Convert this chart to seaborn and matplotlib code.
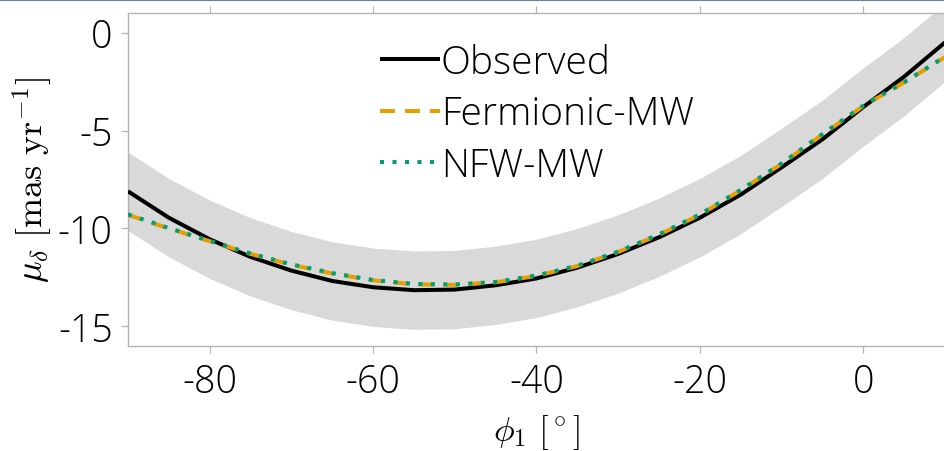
import numpy as np
import pandas as pd
import matplotlib
matplotlib.use("Agg")
import matplotlib.pyplot as plt
import matplotlib.lines as mlines
import seaborn as sns

# Stream track in proper motion along phi_1
phi1 = [-90, -85, -80, -75, -70, -65, -60, -55, -50, -45, -40,
        -35, -30, -25, -20, -15, -10, -5, 0, 5, 10]
mu_observed = [-8.1, -9.45, -10.55, -11.45, -12.15, -12.68, -13.0, -13.15, -13.12,
               -12.9, -12.55, -12.0, -11.3, -10.45, -9.45, -8.27, -6.88, -5.45,
               -3.8, -2.25, -0.5]
mu_fermionic = [-9.3, -10.0, -10.65, -11.3, -11.85, -12.3, -12.65, -12.85, -12.88,
                -12.75, -12.42, -11.92, -11.2, -10.32, -9.3, -8.05, -6.7, -5.2,
                -3.75, -2.55, -1.25]
mu_nfw = [-9.28, -9.98, -10.63, -11.28, -11.83, -12.28, -12.63, -12.83, -12.86,
          -12.73, -12.4, -11.9, -11.18, -10.3, -9.28, -8.03, -6.68, -5.18,
          -3.73, -2.53, -1.23]
mu_uncertainty = 2.0

xticks = [-80, -60, -40, -20, 0]
yticks = [0, -5, -10, -15]

df = pd.DataFrame({"phi1": phi1, "Observed": mu_observed,
                   "Fermionic-MW": mu_fermionic, "NFW-MW": mu_nfw})

sns.set_theme(style="white")
plt.rcParams["font.family"] = ["Open Sans", "DejaVu Sans"]
plt.rcParams["font.weight"] = "light"
plt.rcParams["mathtext.fontset"] = "cm"
plt.rcParams["axes.unicode_minus"] = False
plt.rcParams["text.color"] = "black"
plt.rcParams["axes.labelcolor"] = "black"

fig = plt.figure(figsize=(9.45, 4.52), dpi=100)
ax = fig.add_axes([0.1354, 0.2323, 0.8646, 0.7367])

obs = np.array(mu_observed)
ax.fill_between(df["phi1"], obs - mu_uncertainty, obs + mu_uncertainty,
                color="#d9d9d9", linewidth=0, zorder=1)

sns.lineplot(data=df, x="phi1", y="Observed", ax=ax, color="black",
             linewidth=2.9, label="Observed", zorder=3)
sns.lineplot(data=df, x="phi1", y="Fermionic-MW", ax=ax, color="#E69F00",
             linewidth=2.9, linestyle=(0, (3.7, 2.5)), label="Fermionic-MW", zorder=4)
sns.lineplot(data=df, x="phi1", y="NFW-MW", ax=ax, color="#009E73",
             linewidth=2.9, linestyle=(0, (1.0, 2.1)), label="NFW-MW", zorder=5)
for ln in ax.get_lines():
    ln.set_dash_capstyle("butt")
    ln.set_solid_capstyle("butt")
    ln.set_solid_joinstyle("round")

ax.set_xlim(-90, 10)
ax.set_ylim(-16, 1)
ax.set_xticks(xticks)
ax.set_yticks(yticks)
ax.set_xticklabels([str(t) for t in xticks])
ax.set_yticklabels([str(t) for t in yticks])

spine_col = "#b3b3b3"
for s in ax.spines.values():
    s.set_color(spine_col)
    s.set_linewidth(1.0)
ax.tick_params(axis="both", which="major", direction="out", length=5,
               width=0.9, color=spine_col, labelsize=27, pad=6,
               labelcolor="black")
ax.tick_params(axis="x", top=True, bottom=True, pad=7)
ax.tick_params(axis="y", left=True, right=False)

ax.set_xlabel(r"$\phi_1\ [^\circ]$", fontsize=25, labelpad=8)
ax.set_ylabel(r"$\mu_\delta\ [\mathrm{mas\ yr}^{-1}]$", fontsize=26, labelpad=2)

leg = ax.legend(loc="upper left", bbox_to_anchor=(0.275, 0.99), frameon=False,
                fontsize=28, handlelength=1.55, handletextpad=0.02,
                labelspacing=0.33, borderpad=0.2)

# thin rule along the top edge of the figure
fig.add_artist(mlines.Line2D([0, 1], [0.998, 0.998], transform=fig.transFigure,
                             color="#6b8494", linewidth=1.5))

fig.savefig("out.png", dpi=100)
